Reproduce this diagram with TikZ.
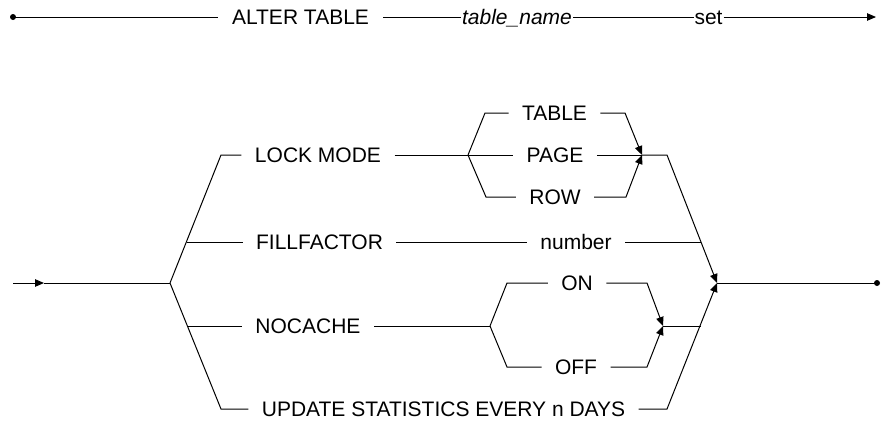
\documentclass[tikz,border=0pt]{standalone}
\usepackage{fontspec}
\setmainfont{Liberation Sans}
\usetikzlibrary{arrows.meta}
\begin{document}
\begin{tikzpicture}[x=1pt,y=-1pt,
  line width=1pt,
  term/.style={font=\fontsize{21pt}{25pt}\selectfont, inner xsep=13pt, inner ysep=0pt,
    text height=15pt, text depth=0pt, anchor=center},
  arr/.style={-{Triangle[length=9pt,width=7.5pt]}},
  dot/.style={circle, fill=black, inner sep=0pt, minimum size=6pt}]
\useasboundingbox (0,0) rectangle (885,421);
% top line
\node[dot] (s0) at (13,17) {};
\node[term, inner xsep=14pt] (alter) at (300.5,17) {ALTER TABLE};
\node[term, inner xsep=1pt] (tname) at (517,17) {\itshape table\_name};
\node[term, inner xsep=0.5pt] (set) at (708.5,17) {set};
\coordinate (e0) at (876,17);
\draw (s0.center) -- (alter.west);
\draw (alter.east) -- (tname.west);
\draw (tname.east) -- (set.west);
\draw[arr] (set.east) -- (e0);
% bottom part
\coordinate (in0) at (13,283);
\coordinate (inA) at (44,283);
\coordinate (j0) at (170,283);
\draw[arr] (in0) -- (inA);
\draw (inA) -- (j0);
\node[term] (lock) at (318,155) {LOCK MODE};
\node[term] (fill) at (319.5,242) {FILLFACTOR};
\node[term] (nocache) at (308,326) {NOCACHE};
\node[term] (upd) at (443.5,409) {UPDATE STATISTICS EVERY n DAYS};
\coordinate (jL) at (221,155);
\coordinate (jU) at (221,409);
\coordinate (jF) at (186.5,242);
\coordinate (jN) at (187,326);
\draw (j0) -- (jL) -- (lock.west);
\draw (j0) -- (jU) -- (upd.west);
\draw (jF) -- (fill.west);
\draw (jN) -- (nocache.west);
% lock mode options
\node[term] (table) at (554.5,113) {TABLE};
\node[term] (page) at (555,155) {PAGE};
\node[term] (row) at (555,197) {ROW};
\coordinate (jLk) at (468,155);
\coordinate (tA) at (485,113);
\coordinate (rA) at (486,197);
\coordinate (tB) at (625,113);
\coordinate (rB) at (626,197);
\coordinate (mL) at (642,155);
\coordinate (mL2) at (667,155);
\draw (lock.east) -- (jLk);
\draw (jLk) -- (tA) -- (table.west);
\draw (jLk) -- (page.west);
\draw (jLk) -- (rA) -- (row.west);
\draw[arr] (table.east) -- (tB) -- (mL);
\draw[arr] (row.east) -- (rB) -- (mL);
\draw (page.east) -- (mL);
\coordinate (mR) at (717,283);
\draw[arr] (mL) -- (mL2) -- (mR);
% fillfactor
\node[term] (number) at (576,242) {number};
\coordinate (nF) at (701,242);
\draw (fill.east) -- (number.west);
\draw (number.east) -- (nF);
% nocache options
\node[term] (on) at (577,283) {ON};
\node[term] (off) at (576,367) {OFF};
\coordinate (jNc) at (490,326);
\coordinate (oA) at (507,283);
\coordinate (fA) at (507,367);
\coordinate (oB) at (647,283);
\coordinate (fB) at (647,367);
\coordinate (mN) at (663,326);
\coordinate (nN) at (701,326);
\draw (nocache.east) -- (jNc);
\draw (jNc) -- (oA) -- (on.west);
\draw (jNc) -- (fA) -- (off.west);
\draw[arr] (on.east) -- (oB) -- (mN);
\draw[arr] (off.east) -- (fB) -- (mN);
\draw (mN) -- (nN);
% update statistics
\coordinate (uB) at (667,409);
\draw[arr] (upd.east) -- (uB) -- (mR);
% exit
\node[dot] (end) at (877,283) {};
\draw (mR) -- (end.center);
\end{tikzpicture}
\end{document}
